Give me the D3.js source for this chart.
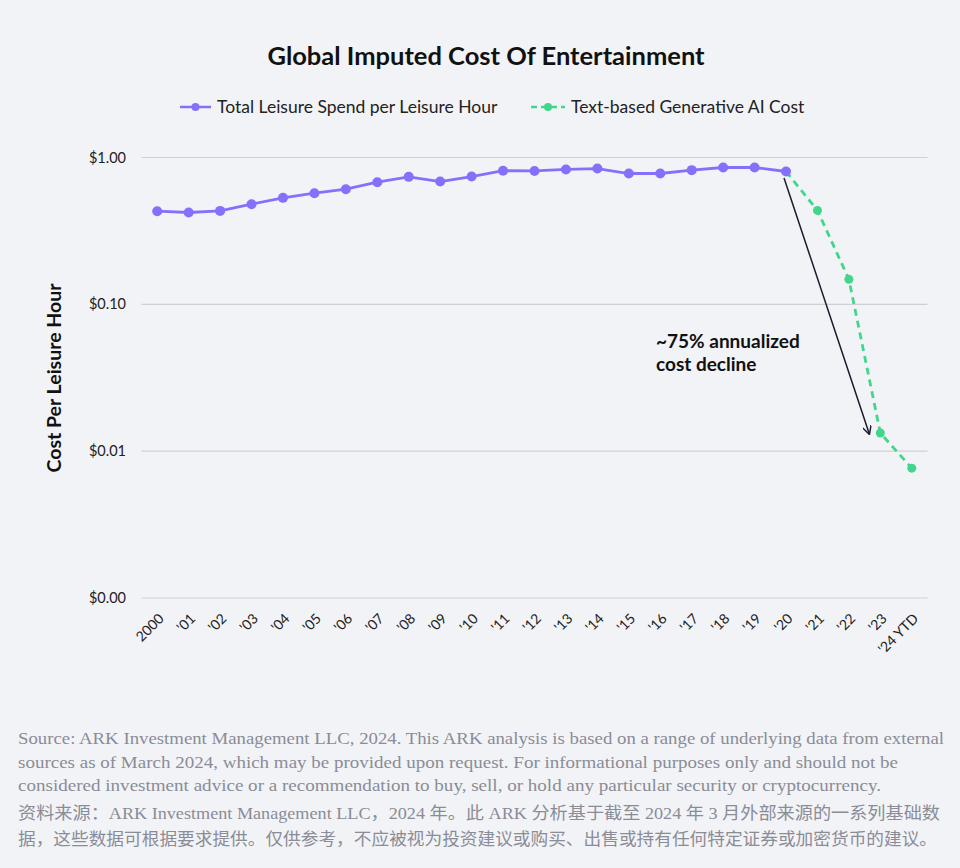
<!DOCTYPE html>
<html><head><meta charset="utf-8">
<script src="https://cdn.jsdelivr.net/npm/d3@7"></script>
<style>
html,body{margin:0;padding:0;background:#f2f3f6;}
svg{display:block;}
</style></head>
<body>
<script>
const categories = ["2000","'01","'02","'03","'04","'05","'06","'07","'08","'09","'10","'11","'12","'13","'14","'15","'16","'17","'18","'19","'20","'21","'22","'23","'24 YTD"];
const leisureValues = [0.431,0.422,0.433,0.481,0.531,0.571,0.608,0.679,0.738,0.686,0.742,0.813,0.810,0.829,0.841,0.778,0.778,0.820,0.855,0.855,0.803];
const aiCategories = ["'20","'21","'22","'23","'24 YTD"];
const aiValues = [0.803,0.436,0.148,0.0133,0.00766];
const yTicks = [1, 0.1, 0.01, 0.001];
const yTickLabels = ["$1.00","$0.10","$0.01","$0.00"];
const seriesNames = ["Total Leisure Spend per Leisure Hour","Text-based Generative AI Cost"];
const footerLines = [
 "Source: ARK Investment Management LLC, 2024. This ARK analysis is based on a range of underlying data from external",
 "sources as of March 2024, which may be provided upon request. For informational purposes only and should not be",
 "considered investment advice or a recommendation to buy, sell, or hold any particular security or cryptocurrency."
];
const footerCN = [
 "资料来源：ARK Investment Management LLC，2024 年。此 ARK 分析基于截至 2024 年 3 月外部来源的一系列基础数",
 "据，这些数据可根据要求提供。仅供参考，不应被视为投资建议或购买、出售或持有任何特定证券或加密货币的建议。"
];

const W=960,H=868;
const purple="#8371fb", green="#42d68c", grid="#cfd0d6";
const svg=d3.select("body").append("svg").attr("width",W).attr("height",H);
svg.append("rect").attr("width",W).attr("height",H).attr("fill","#f2f3f6");

const x=d3.scalePoint().domain(categories).range([141.5,927.5]).padding(0.5);
const y=d3.scaleLog().domain([0.001,1]).range([598,157.5]);

// title
svg.append("text").attr("x",486).attr("y",65).attr("text-anchor","middle")
 .attr("font-family","Lato, sans-serif").attr("font-weight","bold").attr("font-size",25.5).attr("fill","#111")
 .text("Global Imputed Cost Of Entertainment");

// legend
const lg=svg.append("g").attr("font-family","Lato, sans-serif").attr("font-size",17.5).attr("fill","#222");
lg.append("line").attr("x1",180).attr("x2",211).attr("y1",107).attr("y2",107).attr("stroke",purple).attr("stroke-width",2.5);
lg.append("circle").attr("cx",195.5).attr("cy",107).attr("r",4).attr("fill",purple);
lg.append("text").attr("x",217).attr("y",113).text(seriesNames[0]);
lg.append("line").attr("x1",531).attr("x2",565).attr("y1",107).attr("y2",107).attr("stroke",green).attr("stroke-width",2.5).attr("stroke-dasharray","6,4");
lg.append("circle").attr("cx",548).attr("cy",107).attr("r",4).attr("fill",green);
lg.append("text").attr("x",571).attr("y",113).text(seriesNames[1]);

// grid + y labels
const ga=svg.append("g");
yTicks.forEach((t,i)=>{
 ga.append("line").attr("x1",141.5).attr("x2",927.5).attr("y1",y(t)).attr("y2",y(t)).attr("stroke",grid).attr("stroke-width",1.2);
 ga.append("text").attr("x",126).attr("y",y(t)).attr("dy","0.35em").attr("text-anchor","end")
  .attr("font-family","Lato, sans-serif").attr("font-size",14.5).attr("fill","#222").text(yTickLabels[i]);
});

// x labels
const xa=svg.append("g").attr("font-family","Lato, sans-serif").attr("font-size",14).attr("fill","#222");
categories.forEach(c=>{
 xa.append("text").attr("transform",`translate(${x(c)+4},${616}) rotate(-45)`).attr("text-anchor","end").attr("dy","0.35em").text(c);
});

// y title
svg.append("text").attr("transform","translate(61,378) rotate(-90)").attr("text-anchor","middle")
 .attr("font-family","Lato, sans-serif").attr("font-weight","bold").attr("font-size",19.5).attr("fill","#111")
 .text("Cost Per Leisure Hour");

// series
const line=d3.line().x(d=>x(d[0])).y(d=>y(d[1])).curve(d3.curveLinear);
const aiData=aiCategories.map((c,i)=>[c,aiValues[i]]);
const lData=leisureValues.map((v,i)=>[categories[i],v]);
svg.append("path").attr("d",line(aiData)).attr("fill","none").attr("stroke",green).attr("stroke-width",2.8).attr("stroke-dasharray","7,5");
svg.selectAll(".ad").data(aiData.slice(1)).enter().append("circle").attr("cx",d=>x(d[0])).attr("cy",d=>y(d[1])).attr("r",4.5).attr("fill",green);
svg.append("path").attr("d",line(lData)).attr("fill","none").attr("stroke",purple).attr("stroke-width",2.8);
svg.selectAll(".ld").data(lData).enter().append("circle").attr("cx",d=>x(d[0])).attr("cy",d=>y(d[1])).attr("r",5).attr("fill",purple);

// annotation arrow
const defs=svg.append("defs");
defs.append("marker").attr("id","arr").attr("viewBox","0 0 10 10").attr("refX",9).attr("refY",5)
 .attr("markerWidth",9).attr("markerHeight",9).attr("orient","auto").attr("markerUnits","userSpaceOnUse")
 .append("path").attr("d","M0,0 L9.5,5 L0,10").attr("fill","none").attr("stroke","#1c1c2c").attr("stroke-width",1.6);
const ax0=x("'20")-2, ax1=x("'23")-11;
svg.append("line").attr("x1",ax0).attr("y1",178).attr("x2",ax1).attr("y2",434)
 .attr("stroke","#1c1c2c").attr("stroke-width",1.5).attr("marker-end","url(#arr)");
const ann=svg.append("text").attr("font-family","Lato, sans-serif").attr("font-weight","bold").attr("font-size",19).attr("fill","#111");
ann.append("tspan").attr("x",656).attr("y",348).text("~75% annualized");
ann.append("tspan").attr("x",656).attr("y",371).text("cost decline");

// footer
const ft=svg.append("g").attr("font-family","'Liberation Serif', serif").attr("font-size",17).attr("fill","#8a8c96");
const fw=[926,880,863];
footerLines.forEach((t,i)=>{
 ft.append("text").attr("x",18).attr("y",744+i*23.5).attr("textLength",fw[i]).attr("lengthAdjust","spacingAndGlyphs").text(t);
});
const cw=[922,919];
footerCN.forEach((t,i)=>{
 ft.append("text").attr("x",18).attr("y",819+i*25.5).attr("font-family","'Liberation Serif','Noto Sans CJK SC',serif").attr("textLength",cw[i]).attr("lengthAdjust","spacingAndGlyphs").text(t);
});
</script>
</body></html>
